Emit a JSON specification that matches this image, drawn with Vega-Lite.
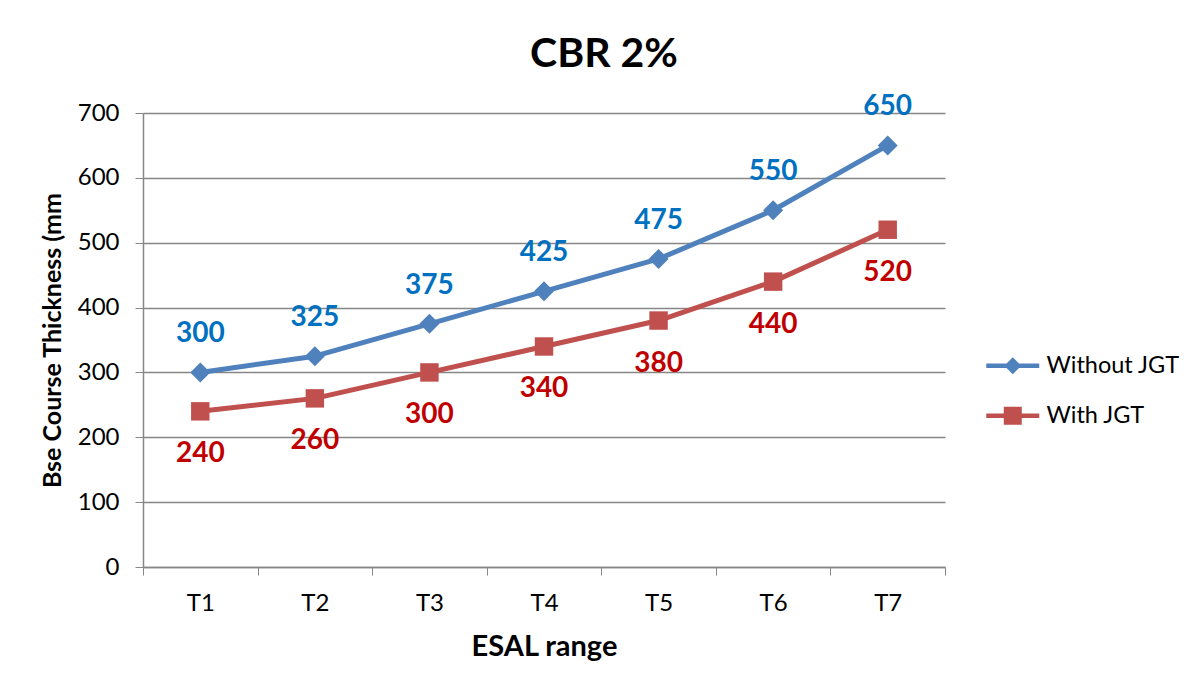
{
  "$schema": "https://vega.github.io/schema/vega-lite/v6.json",
  "autosize": "none",
  "padding": {"left": 143, "top": 113, "right": 258, "bottom": 131},
  "width": 802,
  "height": 454,
  "background": "white",
  "config": {
    "font": "Lato",
    "view": {"stroke": null},
    "axis": {"labelFont": "Lato", "titleFont": "Lato", "labelColor": "#000000", "titleColor": "#000000"}
  },
  "title": {
    "text": "CBR 2%",
    "font": "Lato",
    "fontSize": 41,
    "fontWeight": "bold",
    "color": "#000000",
    "anchor": "middle",
    "dx": 60,
    "baseline": "alphabetic",
    "offset": -15
  },
  "data": {
    "values": [
      {"range": "T1", "series": "Without JGT", "value": 300},
      {"range": "T2", "series": "Without JGT", "value": 325},
      {"range": "T3", "series": "Without JGT", "value": 375},
      {"range": "T4", "series": "Without JGT", "value": 425},
      {"range": "T5", "series": "Without JGT", "value": 475},
      {"range": "T6", "series": "Without JGT", "value": 550},
      {"range": "T7", "series": "Without JGT", "value": 650},
      {"range": "T1", "series": "With JGT", "value": 240},
      {"range": "T2", "series": "With JGT", "value": 260},
      {"range": "T3", "series": "With JGT", "value": 300},
      {"range": "T4", "series": "With JGT", "value": 340},
      {"range": "T5", "series": "With JGT", "value": 380},
      {"range": "T6", "series": "With JGT", "value": 440},
      {"range": "T7", "series": "With JGT", "value": 520}
    ]
  },
  "encoding": {
    "x": {
      "field": "range",
      "type": "ordinal",
      "scale": {"type": "band", "paddingInner": 0, "paddingOuter": 0},
      "axis": {
        "title": "ESAL range",
        "titleFontSize": 29,
        "titleFontWeight": "bold",
        "titlePadding": 17,
        "labelAngle": 0,
        "labelFontSize": 24,
        "labelPadding": 16,
        "tickBand": "extent",
        "tickSize": 8,
        "tickColor": "#868686",
        "domainColor": "#868686",
        "domainWidth": 1.5,
        "grid": false
      }
    },
    "y": {
      "field": "value",
      "type": "quantitative",
      "scale": {"domain": [0, 700], "nice": false},
      "axis": {
        "title": "Bse Course Thickness (mm",
        "titleFontSize": 25,
        "titleFontWeight": "bold",
        "titlePadding": 12,
        "values": [0, 100, 200, 300, 400, 500, 600, 700],
        "labelFontSize": 24,
        "labelPadding": 16,
        "tickSize": 8,
        "tickColor": "#868686",
        "domainColor": "#868686",
        "domainWidth": 1.5,
        "grid": true,
        "gridColor": "#868686",
        "gridWidth": 1.3
      }
    }
  },
  "layer": [
    {
      "mark": {"type": "line", "strokeWidth": 5, "strokeCap": "round", "strokeJoin": "round"},
      "encoding": {
        "color": {
          "field": "series",
          "type": "nominal",
          "scale": {"domain": ["Without JGT", "With JGT"], "range": ["#4F81BD", "#C0504D"]},
          "legend": {
            "title": null,
            "orient": "none",
            "legendX": 858,
            "legendY": 241,
            "padding": 0,
            "symbolSize": 400,
            "labelOffset": 22,
            "labelFontSize": 23.5,
            "labelFont": "Lato",
            "labelColor": "#000000",
            "rowPadding": 25,
            "encode": {
              "symbols": {
                "update": {
                  "shape": {"signal": "datum.value === 'Without JGT' ? 'M-2.65,-0.22H2.65V0.22H-2.65Z M-0.85,0L0,-0.85L0.85,0L0,0.85Z' : 'M-2.65,-0.22H2.65V0.22H-2.65Z M-0.9,-0.9H0.9V0.9H-0.9Z'"},
                  "fill": {"signal": "datum.value === 'Without JGT' ? '#4F81BD' : '#C0504D'"},
                  "stroke": {"value": "transparent"},
                  "strokeWidth": {"value": 0},
                  "size": {"value": 400},
                  "opacity": {"value": 1},
                  "fillOpacity": {"value": 1}
                }
              }
            }
          }
        }
      }
    },
    {
      "transform": [{"filter": "datum.series === 'Without JGT'"}],
      "mark": {"type": "point", "filled": true, "opacity": 1, "shape": "diamond", "size": 400},
      "encoding": {
        "color": {"field": "series", "type": "nominal", "legend": null}
      }
    },
    {
      "transform": [{"filter": "datum.series === 'With JGT'"}],
      "mark": {"type": "point", "filled": true, "opacity": 1, "shape": "square", "size": 340},
      "encoding": {
        "color": {"field": "series", "type": "nominal", "legend": null}
      }
    },
    {
      "transform": [{"filter": "datum.series === 'Without JGT'"}],
      "mark": {"type": "text", "dy": -38, "fontSize": 28, "fontWeight": "bold", "font": "Lato", "color": "#0070C0", "baseline": "middle"},
      "encoding": {"text": {"field": "value", "type": "quantitative"}}
    },
    {
      "transform": [{"filter": "datum.series === 'With JGT'"}],
      "mark": {"type": "text", "dy": 43, "fontSize": 28, "fontWeight": "bold", "font": "Lato", "color": "#C00000", "baseline": "middle"},
      "encoding": {"text": {"field": "value", "type": "quantitative"}}
    }
  ]
}
